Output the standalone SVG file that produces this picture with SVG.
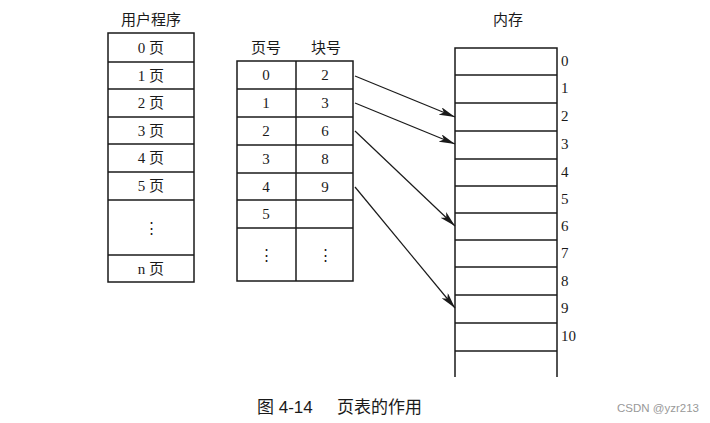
<svg xmlns="http://www.w3.org/2000/svg" width="710" height="423" viewBox="0 0 710 423">
<defs>
<style>
.box{fill:none;stroke:#1a1a1a;stroke-width:1.5}
.ln{stroke:#1a1a1a;stroke-width:1.5}
.t{font-family:"Liberation Serif","Noto Sans CJK SC",serif;font-size:15px;fill:#1a1a1a;text-anchor:middle}
.n{font-family:"Liberation Serif",serif;font-size:15px;fill:#1a1a1a}
.h{font-family:"Noto Sans CJK SC",sans-serif;font-size:15px;fill:#1a1a1a;text-anchor:middle}
.arr{stroke:#1a1a1a;stroke-width:1.2;fill:none;marker-end:url(#ah)}
</style>
<marker id="ah" viewBox="0 0 12 6" refX="12" refY="3" markerWidth="16" markerHeight="8" markerUnits="userSpaceOnUse" orient="auto">
<path d="M0,0 L12,3 L0,6 L3,3 Z" fill="#1a1a1a"/>
</marker>
</defs>
<rect width="710" height="423" fill="#fff"/>

<g id="user-program">
<text class="h" x="151" y="25">用户程序</text>
<rect class="box" x="108" y="33" width="86" height="249"/>
<line class="ln" x1="108" y1="62" x2="194" y2="62"/>
<line class="ln" x1="108" y1="89" x2="194" y2="89"/>
<line class="ln" x1="108" y1="117" x2="194" y2="117"/>
<line class="ln" x1="108" y1="144" x2="194" y2="144"/>
<line class="ln" x1="108" y1="172" x2="194" y2="172"/>
<line class="ln" x1="108" y1="200" x2="194" y2="200"/>
<line class="ln" x1="108" y1="255" x2="194" y2="255"/>
<text class="t" x="151" y="53">0 页</text>
<text class="t" x="151" y="81">1 页</text>
<text class="t" x="151" y="108">2 页</text>
<text class="t" x="151" y="136">3 页</text>
<text class="t" x="151" y="163">4 页</text>
<text class="t" x="151" y="191">5 页</text>
<text class="t" x="151" y="233">⋮</text>
<text class="t" x="151" y="274">n 页</text>
</g>

<g id="page-table">
<text class="h" x="266" y="53">页号</text>
<text class="h" x="326" y="53">块号</text>
<rect class="box" x="237" y="61" width="116" height="220"/>
<line class="ln" x1="296" y1="61" x2="296" y2="281"/>
<line class="ln" x1="237" y1="89" x2="353" y2="89"/>
<line class="ln" x1="237" y1="117" x2="353" y2="117"/>
<line class="ln" x1="237" y1="145" x2="353" y2="145"/>
<line class="ln" x1="237" y1="173" x2="353" y2="173"/>
<line class="ln" x1="237" y1="200" x2="353" y2="200"/>
<line class="ln" x1="237" y1="228" x2="353" y2="228"/>
<text class="t" x="266" y="80">0</text>
<text class="t" x="266" y="108">1</text>
<text class="t" x="266" y="136">2</text>
<text class="t" x="266" y="164">3</text>
<text class="t" x="266" y="192">4</text>
<text class="t" x="266" y="219">5</text>
<text class="t" x="266" y="260">⋮</text>
<text class="t" x="325" y="80">2</text>
<text class="t" x="325" y="108">3</text>
<text class="t" x="325" y="136">6</text>
<text class="t" x="325" y="164">8</text>
<text class="t" x="325" y="192">9</text>
<text class="t" x="325" y="260">⋮</text>
</g>

<g id="memory">
<text class="h" x="508" y="25">内存</text>
<polyline class="box" points="455,377 455,48 557,48 557,377"/>
<line class="ln" x1="455" y1="75" x2="557" y2="75"/>
<line class="ln" x1="455" y1="103" x2="557" y2="103"/>
<line class="ln" x1="455" y1="131" x2="557" y2="131"/>
<line class="ln" x1="455" y1="159" x2="557" y2="159"/>
<line class="ln" x1="455" y1="186" x2="557" y2="186"/>
<line class="ln" x1="455" y1="213" x2="557" y2="213"/>
<line class="ln" x1="455" y1="240" x2="557" y2="240"/>
<line class="ln" x1="455" y1="267" x2="557" y2="267"/>
<line class="ln" x1="455" y1="295" x2="557" y2="295"/>
<line class="ln" x1="455" y1="323" x2="557" y2="323"/>
<line class="ln" x1="455" y1="351" x2="557" y2="351"/>
<text class="n" x="561" y="66">0</text>
<text class="n" x="561" y="93">1</text>
<text class="n" x="561" y="121">2</text>
<text class="n" x="561" y="149">3</text>
<text class="n" x="561" y="177">4</text>
<text class="n" x="561" y="204">5</text>
<text class="n" x="561" y="231">6</text>
<text class="n" x="561" y="258">7</text>
<text class="n" x="561" y="286">8</text>
<text class="n" x="561" y="313">9</text>
<text class="n" x="561" y="341">10</text>
</g>

<g id="connectors">
<line class="arr" x1="355" y1="76" x2="455" y2="117"/>
<line class="arr" x1="355" y1="103" x2="455" y2="144"/>
<line class="arr" x1="355" y1="131" x2="455" y2="226"/>
<line class="arr" x1="355" y1="187" x2="455" y2="308"/>
</g>

<g id="caption">
<text x="257" y="413" style="font-family:'Liberation Sans','Noto Sans CJK SC',sans-serif;font-size:17px;fill:#1a1a1a">图 4-14</text>
<text x="337" y="413" style="font-family:'Noto Sans CJK SC',sans-serif;font-size:17px;fill:#1a1a1a">页表的作用</text>
<text x="617" y="412" style="font-family:'Liberation Sans',sans-serif;font-size:11.5px;fill:#999">CSDN @yzr213</text>
</g>
</svg>
